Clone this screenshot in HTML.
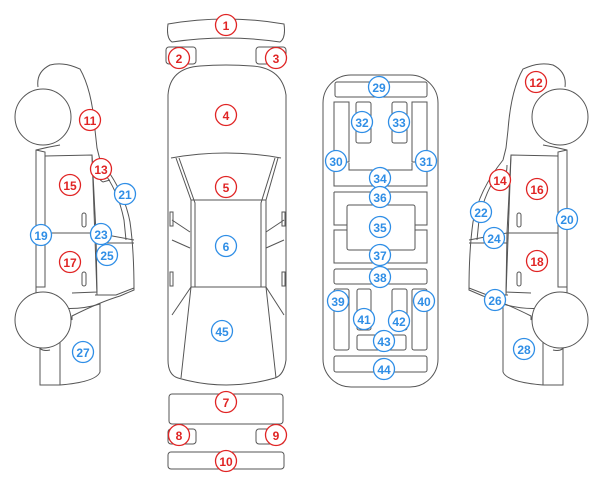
<!DOCTYPE html>
<html><head><meta charset="utf-8"><style>
html,body{margin:0;padding:0;background:#fff;}
svg{display:block}
text{font-family:"Liberation Sans",sans-serif;font-size:12px;font-weight:bold;text-anchor:middle;dominant-baseline:central}
.r circle{stroke:#e02424}.r text{fill:#e02424}
.b circle{stroke:#2f8ee6}.b text{fill:#2f8ee6}
.l circle{fill:#fff;stroke-width:1.3}
</style></head><body>
<svg width="606" height="492" viewBox="0 0 606 492" xmlns="http://www.w3.org/2000/svg">
<g fill="none" stroke="#555" stroke-width="1">
<!-- top view -->
<path d="M168,24 Q226,14 284,24 Q286,38 280,42 Q226,34 172,42 Q166,38 168,24Z"/>
<rect x="166" y="47" width="30" height="17" rx="3"/>
<rect x="256" y="47" width="30" height="17" rx="3"/>
<path d="M168,95 Q170,68 200,66 Q226,64 252,66 Q282,68 286,95 L286,360 Q284,375 275,378 Q226,392 178,378 Q168,375 168,360Z"/>
<path d="M171,158 Q226,148 281,158"/>
<path d="M176,158 L191,200 L266,200 L278,158"/>
<path d="M179,158 L195,203 L195,287"/>
<path d="M275,158 L261,203 L261,287"/>
<rect x="191" y="200" width="75" height="87"/>
<path d="M191,287 L181,378 M266,287 L276,378"/>
<path d="M191,287 L172,315 M266,287 L284,315"/>
<path d="M172,220 L190,232 M284,220 L266,232 M172,240 L190,248 M284,240 L266,248"/>
<rect x="170" y="212" width="3" height="14"/><rect x="282" y="212" width="3" height="14"/>
<rect x="170" y="272" width="3" height="14"/><rect x="282" y="272" width="3" height="14"/>
<rect x="169" y="394" width="114" height="30" rx="3"/>
<rect x="168" y="429" width="28" height="15" rx="3"/>
<rect x="256" y="429" width="28" height="15" rx="3"/>
<rect x="168" y="452" width="116" height="17" rx="3"/>
<!-- floor plan -->
<rect x="323" y="75" width="115" height="312" rx="28"/>
<rect x="335" y="82" width="92" height="15" rx="2"/>
<path d="M334,102 h15 v60 h-15Z M412,102 h15 v60 h-15Z"/>
<path d="M334,163 L334,186 L427,186 L427,163 M349,163 L349,170 L412,170 L412,163"/>
<rect x="356" y="102" width="15" height="41" rx="2"/>
<rect x="392" y="102" width="15" height="41" rx="2"/>
<path d="M334,192 h93 v33 h-12 M334,192 v33 h13"/>
<rect x="347" y="205" width="68" height="45" rx="2"/>
<path d="M347,230 h-13 v33 h93 v-33 h-12"/>
<rect x="334" y="269" width="93" height="15" rx="2"/>
<rect x="334" y="289" width="15" height="61" rx="2"/>
<rect x="412" y="289" width="15" height="61" rx="2"/>
<rect x="357" y="289" width="14" height="41" rx="2"/>
<rect x="392" y="289" width="15" height="41" rx="2"/>
<rect x="357" y="335" width="49" height="15" rx="2"/>
<rect x="334" y="356" width="93" height="16" rx="2"/>
<!-- left side -->
<g id="side">
<path d="M38,87 Q36,72 50,65 Q62,62 75,67 L80,69 Q92,90 95,130 L97,148 L100,160 Q124,190 130,222 Q134,250 134,290 L120,296 Q100,302 72,316 L72,320 Q68,310 60,300 L36,298 L36,150 Q48,147 60,145"/>
<path d="M36,150 L45,152 L45,287 L36,287"/>
<path d="M45,156 L92,155 L96,233 L45,233 Z"/>
<path d="M45,233 L96,233 L97,292 L72,293"/>
<path d="M92,155 L97,295"/>
<path d="M96,165 Q96,178 103,182 L110,180 M102,170 Q118,190 124,220 L126,240"/>
<path d="M96,233 L134,240 M96,243 L134,243"/>
<path d="M95,295 L116,295 L134,288"/>
<path d="M60,302 L60,308 Q80,310 100,304 L100,372 Q96,382 60,385 L40,385 L40,348 Q50,348 50,346"/>
<path d="M38,345 Q40,352 50,350"/>
<path d="M60,302 L60,385"/>
<rect x="82" y="213" width="4" height="14" rx="2"/>
<rect x="82" y="272" width="4" height="14" rx="2"/>
<circle cx="43" cy="117" r="28" fill="#fff"/>
<circle cx="43" cy="320" r="28" fill="#fff"/>
</g>
<use href="#side" transform="translate(603,0) scale(-1,1)"/>
</g>
<g class="l">
<g class="r"><circle cx="226" cy="25" r="10.5"/><text x="226" y="26">1</text></g>
<g class="r"><circle cx="179" cy="58" r="10.5"/><text x="179" y="59">2</text></g>
<g class="r"><circle cx="276" cy="58" r="10.5"/><text x="276" y="59">3</text></g>
<g class="r"><circle cx="226" cy="115" r="10.5"/><text x="226" y="116">4</text></g>
<g class="r"><circle cx="226" cy="187" r="10.5"/><text x="226" y="188">5</text></g>
<g class="b"><circle cx="226" cy="246" r="10.5"/><text x="226" y="247">6</text></g>
<g class="b"><circle cx="222" cy="331" r="10.5"/><text x="222" y="332">45</text></g>
<g class="r"><circle cx="226" cy="402" r="10.5"/><text x="226" y="403">7</text></g>
<g class="r"><circle cx="179" cy="435" r="10.5"/><text x="179" y="436">8</text></g>
<g class="r"><circle cx="276" cy="435" r="10.5"/><text x="276" y="436">9</text></g>
<g class="r"><circle cx="226" cy="461" r="10.5"/><text x="226" y="462">10</text></g>
<g class="r"><circle cx="90" cy="120" r="10.5"/><text x="90" y="121">11</text></g>
<g class="r"><circle cx="101" cy="169" r="10.5"/><text x="101" y="170">13</text></g>
<g class="r"><circle cx="70" cy="185" r="10.5"/><text x="70" y="186">15</text></g>
<g class="b"><circle cx="125" cy="194" r="10.5"/><text x="125" y="195">21</text></g>
<g class="b"><circle cx="41" cy="235" r="10.5"/><text x="41" y="236">19</text></g>
<g class="b"><circle cx="101" cy="234" r="10.5"/><text x="101" y="235">23</text></g>
<g class="b"><circle cx="107" cy="255" r="10.5"/><text x="107" y="256">25</text></g>
<g class="r"><circle cx="70" cy="262" r="10.5"/><text x="70" y="263">17</text></g>
<g class="b"><circle cx="83" cy="352" r="10.5"/><text x="83" y="353">27</text></g>
<g class="r"><circle cx="536" cy="82" r="10.5"/><text x="536" y="83">12</text></g>
<g class="r"><circle cx="500" cy="180" r="10.5"/><text x="500" y="181">14</text></g>
<g class="r"><circle cx="537" cy="189" r="10.5"/><text x="537" y="190">16</text></g>
<g class="b"><circle cx="481" cy="212" r="10.5"/><text x="481" y="213">22</text></g>
<g class="b"><circle cx="567" cy="219" r="10.5"/><text x="567" y="220">20</text></g>
<g class="b"><circle cx="494" cy="238" r="10.5"/><text x="494" y="239">24</text></g>
<g class="r"><circle cx="537" cy="261" r="10.5"/><text x="537" y="262">18</text></g>
<g class="b"><circle cx="495" cy="300" r="10.5"/><text x="495" y="301">26</text></g>
<g class="b"><circle cx="524" cy="349" r="10.5"/><text x="524" y="350">28</text></g>
<g class="b"><circle cx="379" cy="87" r="10.5"/><text x="379" y="88">29</text></g>
<g class="b"><circle cx="362" cy="122" r="10.5"/><text x="362" y="123">32</text></g>
<g class="b"><circle cx="399" cy="122" r="10.5"/><text x="399" y="123">33</text></g>
<g class="b"><circle cx="336" cy="161" r="10.5"/><text x="336" y="162">30</text></g>
<g class="b"><circle cx="426" cy="161" r="10.5"/><text x="426" y="162">31</text></g>
<g class="b"><circle cx="380" cy="178" r="10.5"/><text x="380" y="179">34</text></g>
<g class="b"><circle cx="380" cy="197" r="10.5"/><text x="380" y="198">36</text></g>
<g class="b"><circle cx="380" cy="227" r="10.5"/><text x="380" y="228">35</text></g>
<g class="b"><circle cx="380" cy="255" r="10.5"/><text x="380" y="256">37</text></g>
<g class="b"><circle cx="380" cy="277" r="10.5"/><text x="380" y="278">38</text></g>
<g class="b"><circle cx="338" cy="301" r="10.5"/><text x="338" y="302">39</text></g>
<g class="b"><circle cx="424" cy="301" r="10.5"/><text x="424" y="302">40</text></g>
<g class="b"><circle cx="364" cy="319" r="10.5"/><text x="364" y="320">41</text></g>
<g class="b"><circle cx="399" cy="321" r="10.5"/><text x="399" y="322">42</text></g>
<g class="b"><circle cx="384" cy="341" r="10.5"/><text x="384" y="342">43</text></g>
<g class="b"><circle cx="384" cy="369" r="10.5"/><text x="384" y="370">44</text></g>
</g>
</svg>
</body></html>
